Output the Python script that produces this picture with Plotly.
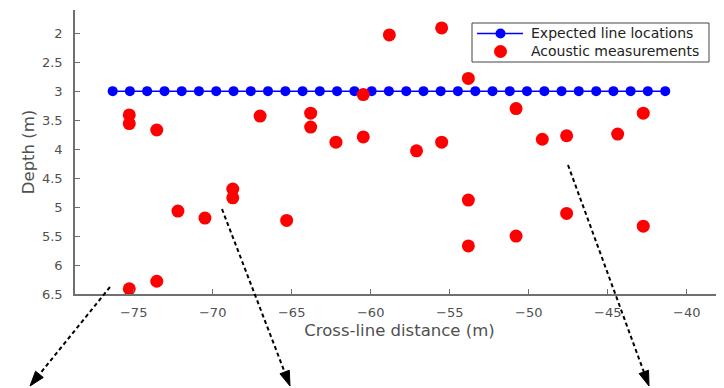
import plotly.graph_objects as go

# ---- data ----
expected_x = [-76.33, -75.24, -74.15, -73.05, -71.96, -70.87, -69.78, -68.68, -67.59, -66.50,
              -65.40, -64.31, -63.22, -62.13, -61.03, -59.94, -58.85, -57.75, -56.66, -55.57,
              -54.48, -53.38, -52.29, -51.20, -50.11, -49.01, -47.92, -46.83, -45.73, -44.64,
              -43.55, -42.46, -41.36]
expected_depth = [3.0] * len(expected_x)

acoustic_x = [-75.28, -75.28, -73.54, -67.0, -63.8, -63.8, -62.2, -68.73, -68.73, -72.2,
              -70.49, -65.32, -75.28, -73.54, -58.82, -55.51, -53.82, -60.47, -50.8, -60.47,
              -57.1, -55.51, -49.14, -47.6, -53.82, -47.6, -50.8, -53.82, -42.75, -44.37, -42.75]
acoustic_depth = [3.41, 3.56, 3.67, 3.43, 3.38, 3.62, 3.88, 4.69, 4.84, 5.07,
                  5.19, 5.23, 6.41, 6.28, 2.03, 1.91, 2.78, 3.06, 3.30, 3.79,
                  4.03, 3.88, 3.83, 3.77, 4.88, 5.11, 5.50, 5.67, 3.38, 3.74, 5.33]

x_ticks = [-75, -70, -65, -60, -55, -50, -45, -40]
y_ticks = [2, 2.5, 3, 3.5, 4, 4.5, 5, 5.5, 6, 6.5]
y_tick_labels = ["2", "2.5", "3", "3.5", "4", "4.5", "5", "5.5", "6", "6.5"]

series_names = ["Expected line locations", "Acoustic measurements"]
BLUE, RED = "#0000ff", "#ff0000"

# ---- geometry (screen pixels; the page body adds an 8 px offset) ----
BODY = 8
SCREEN_W, SCREEN_H = 724, 388
PLOT_L, PLOT_R, PLOT_T, PLOT_B = 75, 724, 10, 294
PW = PLOT_R - PLOT_L
PH = PLOT_B - PLOT_T
FIG_W, FIG_H = SCREEN_W - BODY, SCREEN_H - BODY


def to_paper(px, py):
    return (px - PLOT_L) / PW, (PLOT_B - py) / PH


FONT = "DejaVu Sans, Verdana, sans-serif"
AX_COLOR = "#707070"
TXT = "#505050"

fig = go.Figure()
fig.add_trace(go.Scatter(
    x=expected_x, y=expected_depth, mode="lines+markers", name=series_names[0],
    line=dict(color=BLUE, width=1.5), marker=dict(color=BLUE, size=10), showlegend=False,
))
fig.add_trace(go.Scatter(
    x=acoustic_x, y=acoustic_depth, mode="markers", name=series_names[1],
    marker=dict(color=RED, size=13), showlegend=False,
))

shapes = []
annotations = []

# dotted arrows below the axes (decoration)
arrows = [((110, 287), (30, 386)), ((222, 209), (290, 386)), ((568, 165), (649, 386))]
for (sx, sy), (tx, ty) in arrows:
    dx, dy = tx - sx, ty - sy
    L = (dx * dx + dy * dy) ** 0.5
    ux, uy = dx / L, dy / L
    head_len, half_w = 15, 5
    bx, by = tx - ux * head_len, ty - uy * head_len
    nx, ny = -uy, ux
    x0, y0 = to_paper(sx, sy)
    x1, y1 = to_paper(bx, by)
    shapes.append(dict(type="line", xref="paper", yref="paper", x0=x0, y0=y0, x1=x1, y1=y1,
                       line=dict(color="black", width=2, dash="4px,3px")))
    p1 = to_paper(tx, ty)
    p2 = to_paper(bx + nx * half_w, by + ny * half_w)
    p3 = to_paper(bx - nx * half_w, by - ny * half_w)
    shapes.append(dict(type="path", xref="paper", yref="paper",
                       path=f"M{p1[0]},{p1[1]} L{p2[0]},{p2[1]} L{p3[0]},{p3[1]} Z",
                       fillcolor="black", line=dict(color="black", width=1)))

# legend box (drawn by hand to match the reference's compact layout)
bx0, by0 = to_paper(472, 23)
bx1, by1 = to_paper(709, 62)
shapes.append(dict(type="rect", xref="paper", yref="paper", x0=bx0, y0=by1, x1=bx1, y1=by0,
                   fillcolor="white", line=dict(color="#444444", width=1), layer="above"))
rows = [33.5, 51.5]
lx0, ly = to_paper(477, rows[0])
lx1, _ = to_paper(523, rows[0])
shapes.append(dict(type="line", xref="paper", yref="paper", x0=lx0, y0=ly, x1=lx1, y1=ly,
                   line=dict(color=BLUE, width=1.5), layer="above"))
for row, color, size in [(rows[0], BLUE, 10), (rows[1], RED, 13)]:
    cx, cy = to_paper(500.5, row)
    r = size / 2
    shapes.append(dict(type="circle", xref="paper", yref="paper",
                       xsizemode="pixel", ysizemode="pixel", xanchor=cx, yanchor=cy,
                       x0=-r, x1=r, y0=-r, y1=r, fillcolor=color,
                       line=dict(color=color, width=0), layer="above"))
for row, name in zip(rows, series_names):
    tx, ty = to_paper(529, row)
    annotations.append(dict(xref="paper", yref="paper", x=tx, y=ty, xanchor="left",
                            yanchor="middle", text=name, showarrow=False,
                            font=dict(family=FONT, size=14, color="#222222")))

fig.update_layout(
    width=FIG_W, height=FIG_H,
    margin=dict(l=PLOT_L - BODY, r=SCREEN_W - PLOT_R, t=PLOT_T - BODY,
                b=FIG_H - (PLOT_B - BODY), autoexpand=False),
    paper_bgcolor="white", plot_bgcolor="white",
    font=dict(family=FONT, size=13, color=TXT),
    showlegend=False,
    shapes=shapes, annotations=annotations,
    xaxis=dict(range=[-78.715, -37.64], tickvals=x_ticks, ticks="inside", ticklen=5,
               tickcolor=AX_COLOR, showline=True, linecolor=AX_COLOR, linewidth=1.5,
               showgrid=False, zeroline=False, ticklabelstandoff=6,
               tickfont=dict(family=FONT, size=13, color=TXT),
               title=dict(text="Cross-line distance (m)", standoff=5,
                          font=dict(family=FONT, size=16.5, color=TXT))),
    yaxis=dict(range=[6.5, 1.6], tickvals=y_ticks, ticktext=y_tick_labels, ticks="inside",
               ticklen=5, tickcolor=AX_COLOR, showline=True, linecolor=AX_COLOR, linewidth=1.5,
               showgrid=False, zeroline=False, ticklabelstandoff=8,
               tickfont=dict(family=FONT, size=13, color=TXT),
               title=dict(text="Depth (m)", standoff=3,
                          font=dict(family=FONT, size=16.5, color=TXT))),
)

fig.write_html("out.html")
